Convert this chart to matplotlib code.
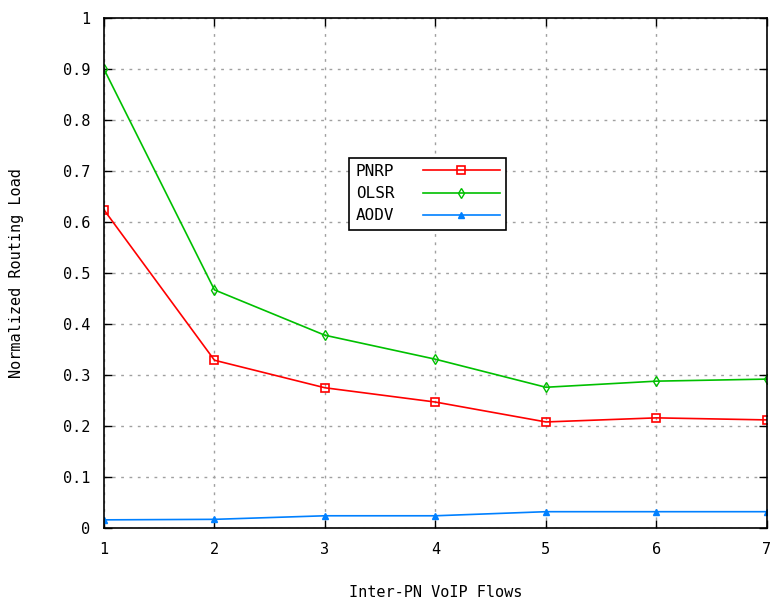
import matplotlib
matplotlib.use("Agg")
import matplotlib.pyplot as plt

flows = [1, 2, 3, 4, 5, 6, 7]
pnrp = [0.624, 0.329, 0.275, 0.247, 0.208, 0.216, 0.212]
olsr = [0.900, 0.467, 0.378, 0.331, 0.276, 0.288, 0.292]
aodv = [0.016, 0.017, 0.024, 0.024, 0.032, 0.032, 0.032]

plt.rcParams['font.family'] = ['DejaVu Sans Mono']
plt.rcParams['font.size'] = 11

fig = plt.figure(figsize=(7.77, 6.02), dpi=100)
ax = fig.add_axes([0.1338, 0.1229, 0.987 - 0.1338, 0.970 - 0.1229])

ax.plot(flows, pnrp, color='#ff0000', lw=1.2, marker='s', ms=6, mfc='none', mew=1.2, label='PNRP')
ax.plot(flows, olsr, color='#00c000', lw=1.2, marker='d', ms=5, mfc='none', mew=1.0, label='OLSR')
ax.plot(flows, aodv, color='#0080ff', lw=1.2, marker='^', ms=5, mew=1.0, label='AODV')

ax.set_xlim(1, 7)
ax.set_ylim(0, 1)
ax.set_xticks(flows)
ax.set_yticks([i / 10 for i in range(11)])
ax.set_yticklabels(['0'] + ['%.1f' % (i / 10) for i in range(1, 10)] + ['1'])
ax.grid(True, color='#a0a0a0', linestyle=(0, (2, 4)), lw=1.0)
ax.tick_params(direction='in', top=True, right=True, length=6, width=1, pad=10)
for s in ax.spines.values():
    s.set_linewidth(1.2)

ax.set_xlabel('Inter-PN VoIP Flows', labelpad=20)
ax.set_ylabel('Normalized Routing Load', labelpad=28)

leg = ax.legend(loc='upper left', bbox_to_anchor=(0.358, 0.742), markerfirst=False,
                frameon=True, fancybox=False, edgecolor='black', framealpha=1,
                handlelength=4.8, borderpad=0.4, labelspacing=0.45, handletextpad=1.8,
                fontsize=11.5)
leg.get_frame().set_linewidth(1.2)

fig.savefig('out.png', dpi=100)
